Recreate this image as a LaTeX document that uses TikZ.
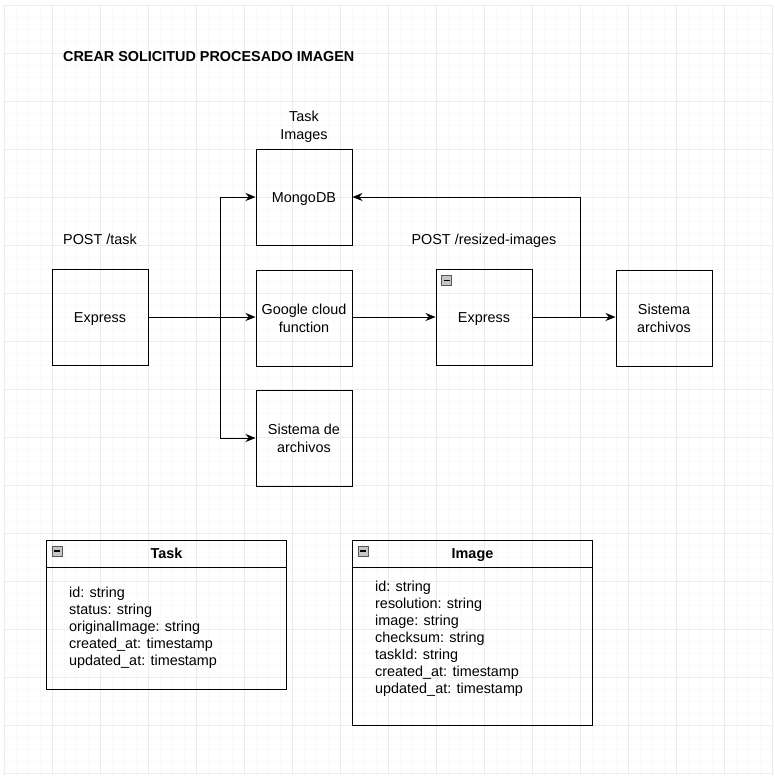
\documentclass[tikz,border=0pt]{standalone}
\usepackage{fontspec}
\setmainfont{Liberation Sans}
\usetikzlibrary{positioning,arrows.meta}

\tikzset{
  box/.style={draw, line width=1pt, minimum width=96pt, minimum height=96pt, align=center, inner sep=0pt},
  oneline/.style={text height=13pt, text depth=3pt},
  tbl/.style={draw, line width=1pt, anchor=north west, inner sep=0pt, minimum width=240pt},
  lbl/.style={align=center, inner sep=0pt},
  fields/.style={anchor=north west, align=left, inner sep=0pt, font=\fontsize{14.4pt}{17pt}\selectfont},
  arr/.style={-{Stealth[length=10pt,width=8pt]}, line width=0.9pt},
  minusbox/.style={draw=gray!70!black, fill=gray!45, minimum size=10pt, inner sep=0pt}
}

\begin{document}
\begin{tikzpicture}[x=1pt,y=-1pt,font=\fontsize{14.4pt}{18pt}\selectfont]
    \useasboundingbox (0,0) rectangle (775,780);
    \begin{scope}[shift={(4,5)}]
      \draw[step=12pt,gray!5,line width=0.8pt] (-1,0) grid (768,770);
      \draw[step=48pt,gray!15,line width=0.8pt] (-1,0) grid (768,770);
    \end{scope}

    \node[anchor=west, inner sep=0pt, font=\fontsize{14.4pt}{18pt}\selectfont\bfseries] (title) at (63,57) {CREAR SOLICITUD PROCESADO IMAGEN};

    % boxes of the request flow
    \node[box, oneline] (mongo) at (304,197) {MongoDB};
    \node[box, oneline] (express) at (100,317) {Express};
    \node[box] (gcf) at (304,318) {Google cloud\\function};
    \node[box] (sisa) at (304,438) {Sistema de\\archivos};
    \node[box, oneline] (expressb) at (484,317) {Express};
    \node[box] (sisb) at (664,318) {Sistema\\archivos};
    \node[minusbox] (expressbicon) at ([xshift=11pt,yshift=-12pt]expressb.north west) {\rule{6pt}{1.4pt}};

    \node[lbl] (mongolbl) at (304,127) {Task\\Images};
    \node[lbl, oneline] (postlbl) at (100,239) {POST /task};
    \node[lbl, oneline] (resizelbl) at (484,239) {POST /resized-images};

    % connectors
    \coordinate (split) at (220,317);
    \draw[arr] (express) -- (gcf.west |- express);
    \draw[arr] (split) |- (mongo.west);
    \draw[arr] (split) |- (sisa.west);
    \draw[arr] (gcf.east |- expressb) -- (expressb);
    \draw[arr] (expressb) -- (sisb.west |- expressb);
    \draw[arr] (expressb.east) -- ++(48,0) |- (mongo.east);

    % Task table
    \node[tbl, minimum height=149pt] (task) at (46,540) {};
    \draw[line width=1pt] ([yshift=-27pt]task.north west) -- ([yshift=-27pt]task.north east);
    \node[oneline, font=\fontsize{14.4pt}{18pt}\selectfont\bfseries] (tasktitle) at ([yshift=-13.5pt]task.north) {Task};
    \node[minusbox] (taskicon) at ([xshift=11pt,yshift=-11pt]task.north west) {\rule{6pt}{1.4pt}};
    \node[fields] (taskfields) at (69,587) {id: string\\status: string\\originalImage: string\\created\_at: timestamp\\updated\_at: timestamp};

    % Image table
    \node[tbl, minimum height=185pt] (image) at (352,540) {};
    \draw[line width=1pt] ([yshift=-27pt]image.north west) -- ([yshift=-27pt]image.north east);
    \node[oneline, font=\fontsize{14.4pt}{18pt}\selectfont\bfseries] (imagetitle) at ([yshift=-13.5pt]image.north) {Image};
    \node[minusbox] (imageicon) at ([xshift=11pt,yshift=-11pt]image.north west) {\rule{6pt}{1.4pt}};
    \node[fields] (imagefields) at (375,581) {id: string\\resolution: string\\image: string\\checksum: string\\taskId: string\\created\_at: timestamp\\updated\_at: timestamp};
\end{tikzpicture}
\end{document}
